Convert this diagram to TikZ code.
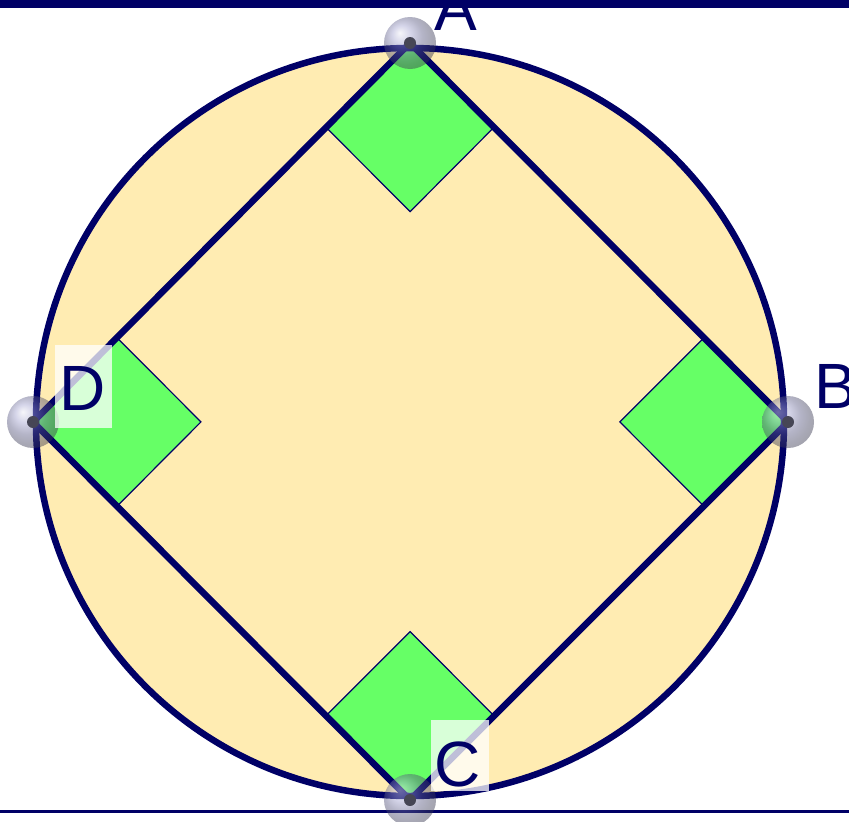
\documentclass[tikz,border=0pt]{standalone}
\usepackage{fontspec}
\setmainfont{Liberation Sans}
\usetikzlibrary{calc}
\definecolor{navy}{RGB}{0,0,102}
\definecolor{pale}{RGB}{255,236,178}
\definecolor{mygreen}{RGB}{102,255,102}
\definecolor{dotgray}{RGB}{70,70,85}
\tikzset{
  edge/.style={draw=navy, line width=6.5pt},
  marker/.style={fill=mygreen, draw=navy, line width=1.2pt},
  ptball/.style={circle, minimum size=52pt, inner sep=0pt, shading=ball, ball color={rgb,255:red,130;green,130;blue,190}, opacity=0.45},
  ptdot/.style={circle, fill=dotgray, minimum size=12pt, inner sep=0pt},
  lbl/.style={anchor=base west, inner sep=0pt, text=navy, font=\fontsize{64}{64}\selectfont},
  lblbox/.style={fill=white, fill opacity=0.75, draw=none}
}
\begin{document}
\begin{tikzpicture}[x=1pt,y=-1pt]
\clip (0,0) rectangle (849,822);
\fill[white] (0,0) rectangle (849,822);
% frame lines
\fill[navy] (0,0) rectangle (849,8);
\draw[navy, line width=3pt] (0,811) -- (849,811);
% vertices
\coordinate (O) at (410,422);
\coordinate (A) at (410,43);
\coordinate (B) at (788,422);
\coordinate (C) at (410,800);
\coordinate (D) at (33,422);
% circle
\fill[pale] (O) circle (374);
% right-angle markers
\foreach \V/\P/\Q in {A/D/B, B/A/C, C/B/D, D/C/A}{
  \coordinate (p) at ($(\V)!119pt!(\P)$);
  \coordinate (q) at ($(\V)!119pt!(\Q)$);
  \path[marker] (\V) -- (p) -- ($(p)+(q)-(\V)$) -- (q) -- cycle;
}
\draw[navy, line width=6.5pt] (O) circle (374);
\draw[edge, line join=miter] (A) -- (B) -- (C) -- (D) -- cycle;
% points
\foreach \V in {A,B,C,D}{
  \node[ptball] (ball\V) at (\V) {};
  \node[ptdot] (dot\V) at (\V) {};
}
% label boxes
\fill[lblbox] (55,345) rectangle (112,428);
\fill[lblbox] (431,720) rectangle (489,791);
% labels
\node[lbl] (labA) at (434,30) {A};
\node[lbl] (labB) at (814,408) {B};
\node[lbl] (labC) at (434,786) {C};
\node[lbl] (labD) at (59,410) {D};
\end{tikzpicture}
\end{document}
